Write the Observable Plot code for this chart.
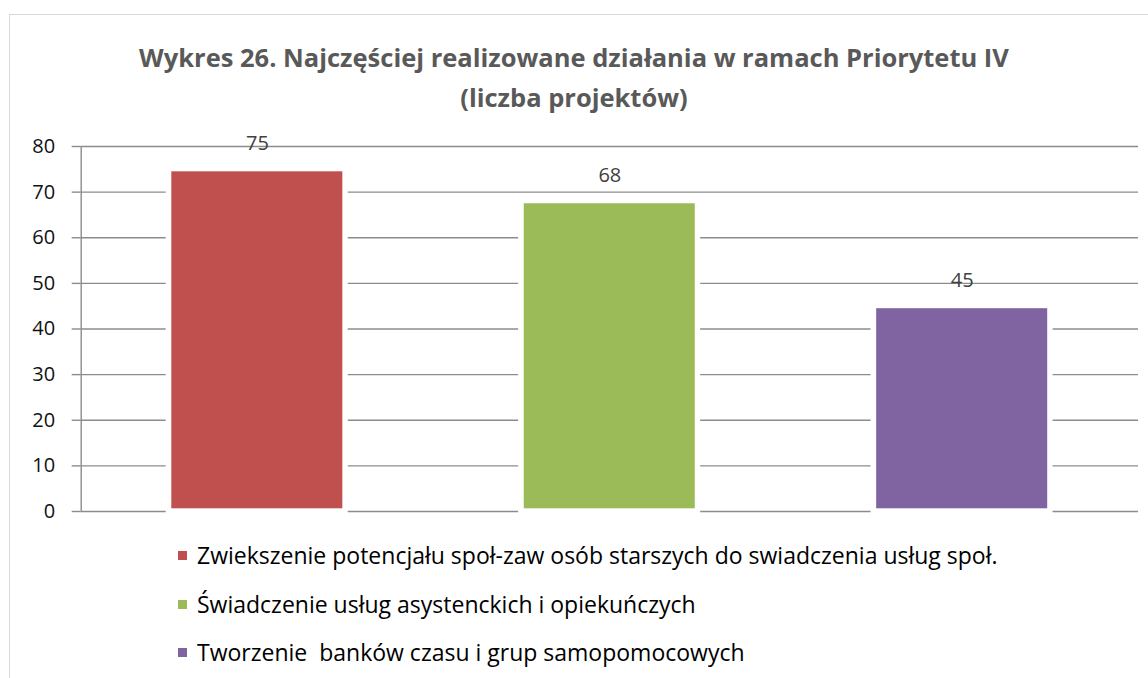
<!DOCTYPE html>
<html>
<head>
<meta charset="utf-8">
<script src="https://cdn.jsdelivr.net/npm/d3@7"></script>
<script src="https://cdn.jsdelivr.net/npm/@observablehq/plot@0.6"></script>
<style>
  html, body { margin: 0; padding: 0; width: 1148px; height: 678px; overflow: hidden; background: #fff; font-family: "Open Sans", sans-serif; }
  #frame { position: absolute; left: 9px; top: 14px; width: 1200px; height: 700px; border-top: 1px solid #d9d9d9; border-left: 1px solid #d9d9d9; }
  #title { position: absolute; left: 0; top: 37px; width: 1148px; text-align: center; font-weight: bold; font-size: 25.5px; line-height: 40px; color: #595959; }
  #chart { position: absolute; left: 0; top: 120px; }
  .leg { position: absolute; left: 178px; font-size: 23px; color: #000; line-height: 30px; height: 30px; white-space: pre; }
  .leg .sw { display: inline-block; width: 9px; height: 9px; margin-right: 10px; vertical-align: middle; position: relative; top: -2px; }
</style>
</head>
<body>
<div id="frame"></div>
<div id="title"></div>
<div id="chart"></div>
<div id="legend"></div>
<script>
const titleLines = ["Wykres 26. Najczęściej realizowane działania w ramach Priorytetu IV", "(liczba projektów)"];
const categories = [
  "Zwiekszenie potencjału społ-zaw osób starszych do swiadczenia usług społ.",
  "Świadczenie usług asystenckich i opiekuńczych",
  "Tworzenie  banków czasu i grup samopomocowych"
];
const values = [75, 68, 45];
const colors = ["#C0504D", "#9BBB59", "#8064A2"];
const yTicks = [0, 10, 20, 30, 40, 50, 60, 70, 80];

document.getElementById("title").innerHTML = titleLines.map(t => `<div>${t}</div>`).join("");

const data = categories.map((c, i) => ({cat: c, i, value: values[i], color: colors[i]}));

const W = 1148, H = 420;
const plot = Plot.plot({
  width: W,
  height: H,
  marginLeft: 80.7,
  marginRight: 10,
  marginTop: 26,
  marginBottom: 29,
  style: {fontFamily: "Open Sans, sans-serif", background: "transparent", overflow: "visible"},
  x: {domain: [0, categories.length], range: [80.7, 1138], axis: null},
  y: {domain: [0, 80], range: [391, 26], axis: null},
  marks: [
    Plot.gridY(yTicks, {stroke: "#8c8c8c", strokeOpacity: 1, strokeWidth: 1.4}),
    Plot.ruleX([0], {stroke: "#8c8c8c", strokeWidth: 1.4}),
    Plot.rectY(data, {x1: d => d.i, x2: d => d.i + 1, y1: 0, y2: "value", fill: "white", insetLeft: 85, insetRight: 85.4, insetBottom: -3}),
    Plot.rectY(data, {x1: d => d.i, x2: d => d.i + 1, y1: 0, y2: "value", fill: "color", insetLeft: 90.6, insetRight: 90.8, insetTop: 2.5, insetBottom: 2.7}),
    Plot.text(data, {x: d => d.i + 0.5, y: "value", text: d => String(d.value), dy: -25.5, lineAnchor: "middle", fontSize: 20, fill: "#404040"}),
    Plot.axisY(yTicks, {label: null, tickSize: 9, tickPadding: 17, fontSize: 20, stroke: "#8c8c8c", strokeWidth: 1.4, fill: "#111", tickFormat: d => String(d)})
  ]
});
document.getElementById("chart").appendChild(plot);

const legendTops = [540, 589, 637];
const leg = document.getElementById("legend");
data.forEach((d, k) => {
  const el = document.createElement("div");
  el.className = "leg";
  el.style.top = legendTops[k] + "px";
  el.innerHTML = `<span class="sw" style="background:${d.color}"></span>${d.cat}`;
  leg.appendChild(el);
});
</script>
</body>
</html>
